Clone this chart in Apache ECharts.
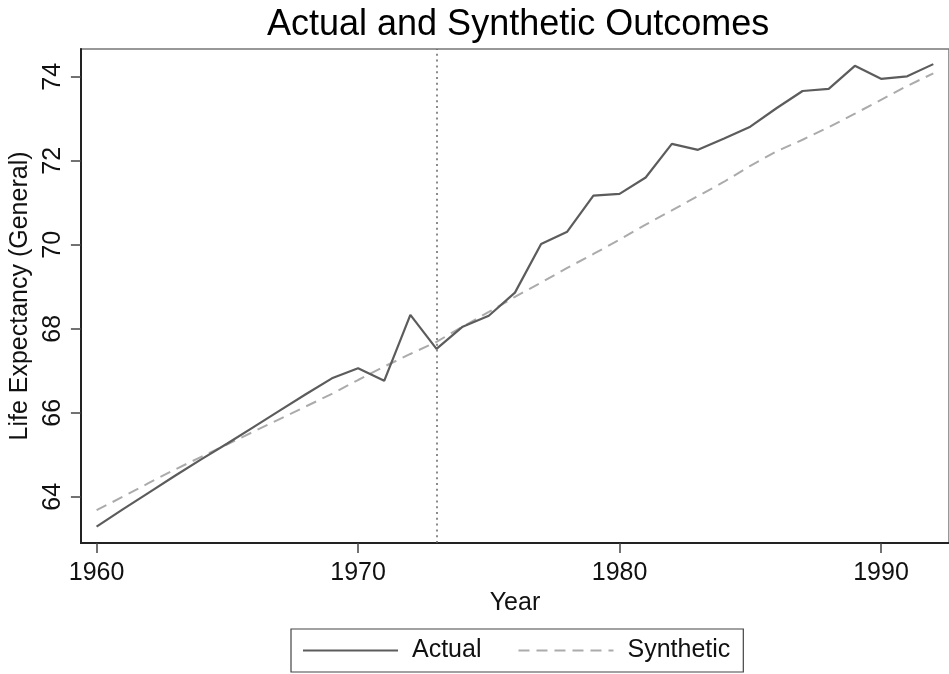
<!DOCTYPE html>
<html>
<head>
<meta charset="utf-8">
<script src="https://cdn.jsdelivr.net/npm/echarts@6/dist/echarts.min.js"></script>
<style>
html,body{margin:0;padding:0;background:#fff;}
#chart{width:949px;height:674px;}
</style>
</head>
<body>
<div id="chart"></div>
<script>
const years = [1960,1961,1962,1963,1964,1965,1966,1967,1968,1969,1970,1971,1972,1973,1974,1975,1976,1977,1978,1979,1980,1981,1982,1983,1984,1985,1986,1987,1988,1989,1990,1991,1992];
const actual = [63.29,63.70,64.10,64.50,64.89,65.27,65.66,66.05,66.44,66.82,67.06,66.76,68.33,67.52,68.05,68.31,68.86,70.02,70.31,71.17,71.21,71.60,72.40,72.26,72.53,72.81,73.25,73.66,73.71,74.26,73.95,74.01,74.30];
const synthetic = [63.68,64.00,64.33,64.65,64.95,65.25,65.55,65.85,66.15,66.45,66.78,67.10,67.40,67.69,68.05,68.40,68.76,69.10,69.45,69.78,70.12,70.48,70.82,71.16,71.50,71.88,72.22,72.50,72.80,73.12,73.45,73.78,74.08];
const xTicks = [1960,1970,1980,1990];
const yTicks = [64,66,68,70,72,74];
const treatYear = 1973;
const seriesNames = ['Actual','Synthetic'];
const titleText = 'Actual and Synthetic Outcomes';
const xName = 'Year';
const yName = 'Life Expectancy (General)';

const FONT = '"Liberation Sans", Arial, sans-serif';
const chart = echarts.init(document.getElementById('chart'), null, {renderer:'canvas'});
chart.setOption({
  animation: false,
  backgroundColor: '#fff',
  title: {
    text: titleText, left: 267, top: 7, padding: 0,
    textStyle: {fontFamily: FONT, fontSize: 36, fontWeight: 'normal', color: '#000'}
  },
  legend: {
    data: seriesNames,
    left: 291, bottom: 2,
    orient: 'horizontal',
    itemWidth: 95, itemHeight: 14, itemGap: 36,
    padding: [9, 13, 9, 11],
    borderColor: '#444', borderWidth: 1.2,
    itemStyle: {opacity: 0},
    textStyle: {fontFamily: FONT, fontSize: 25, color: '#111', padding: [0,0,0,9]}
  },
  grid: {
    left: 80, top: 49, width: 875, height: 494,
    show: true, borderColor: '#777', borderWidth: 1.5, containLabel: false
  },
  xAxis: {
    type: 'value', min: 1959.4, max: 1992.6,
    name: xName, nameLocation: 'middle', nameGap: 44,
    nameTextStyle: {fontFamily: FONT, fontSize: 25, color: '#111'},
    axisLine: {show: true, lineStyle: {color: '#222', width: 2}},
    axisTick: {show: true, length: 10, customValues: xTicks, lineStyle: {color: '#444', width: 1.5}},
    axisLabel: {customValues: xTicks, formatter: v => String(v), fontFamily: FONT, fontSize: 25, color: '#111', margin: 18},
    splitLine: {show: false}
  },
  yAxis: {
    type: 'value', min: 62.9, max: 74.66,
    name: yName, nameLocation: 'middle', nameGap: 45,
    nameTextStyle: {fontFamily: FONT, fontSize: 25, color: '#111'},
    axisLine: {show: true, lineStyle: {color: '#222', width: 2}},
    axisTick: {show: true, length: 10, customValues: yTicks, lineStyle: {color: '#444', width: 1.5}},
    axisLabel: {customValues: yTicks, formatter: v => String(v), rotate: 90, fontFamily: FONT, fontSize: 25, color: '#111', margin: 15},
    splitLine: {show: false}
  },
  series: [
    {
      name: seriesNames[0], type: 'line', symbol: 'none',
      data: years.map((y, i) => [y, actual[i]]),
      lineStyle: {color: '#5c5c5c', width: 2.2},
      itemStyle: {color: '#5c5c5c'},
      z: 3,
      markLine: {
        silent: true, symbol: 'none', label: {show: false},
        lineStyle: {color: '#666', width: 1.5, type: [2, 3.8]},
        data: [{xAxis: treatYear}]
      }
    },
    {
      name: seriesNames[1], type: 'line', symbol: 'none',
      data: years.map((y, i) => [y, synthetic[i]]),
      lineStyle: {color: '#ababab', width: 2, type: [11, 7]},
      itemStyle: {color: '#ababab'},
      z: 2
    }
  ]
});
</script>
</body>
</html>
